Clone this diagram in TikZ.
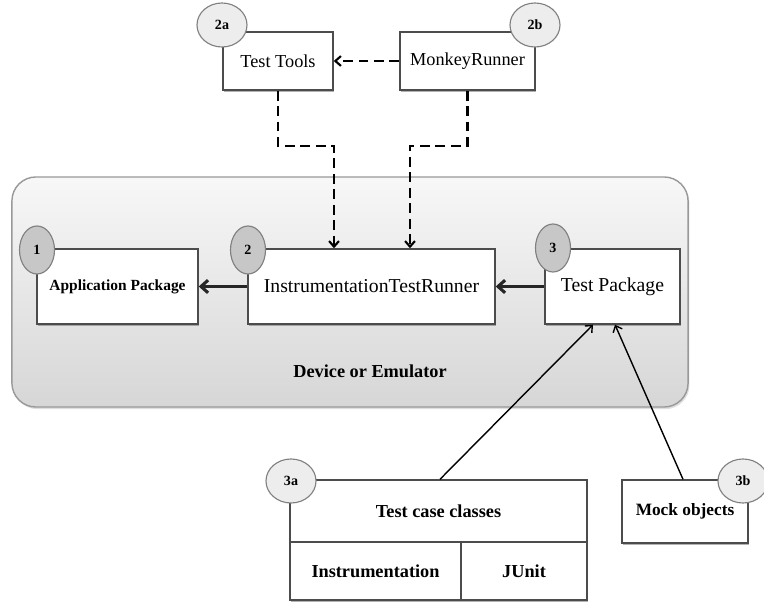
\documentclass[tikz,border=0pt]{standalone}
\usepackage{fontspec}
\setmainfont{Liberation Serif}
\usetikzlibrary{arrows.meta,shapes.geometric,shadows,calc}
\tikzset{>={Straight Barb[length=5pt,width=9pt]}}

\begin{document}
\begin{tikzpicture}[x=0.025cm, y=-0.025cm, font=\fontsize{13}{15}\selectfont]

  \tikzset{box/.style={draw=black!70, fill=white, line width=1pt,
                       drop shadow={shadow xshift=0.8pt, shadow yshift=-1.2pt,
                                    fill=black!60},
                       minimum height=1.875cm, inner sep=1pt},
           num/.style={ellipse, draw=black!50, fill=black!22, line width=0.8pt,
                       font=\bfseries\fontsize{10}{12}\selectfont, inner sep=0pt,
                       minimum width=0.875cm, minimum height=1.2cm},
           tag/.style={ellipse, draw=black!50, fill=black!7, line width=0.8pt,
                       font=\bfseries\fontsize{10}{12}\selectfont, inner sep=0pt,
                       minimum width=1.25cm, minimum height=1.1cm},
           link/.style={->, line width=2.2pt, draw=black!85},
           dline/.style={->, line width=1.5pt, dash pattern=on 7pt off 4pt,
                         >={Straight Barb[length=4pt,width=7pt]}},
           pull/.style={->, line width=1pt,
                        >={Straight Barb[length=4pt,width=7pt]}}}

  \useasboundingbox (0,0) rectangle (764,602);

  % device or emulator
  \node[draw=black!40, line width=1pt, rounded corners=0.6cm,
        top color=black!3, bottom color=black!16,
        drop shadow={shadow xshift=1pt, shadow yshift=-1.5pt, opacity=0.25},
        minimum width=16.9cm, minimum height=5.75cm] (device) at (350,292) {};
  \node[font=\fontsize{13}{15}\selectfont\bfseries] (devlbl) at (370,371)
       {Device or Emulator};
  \node[box, minimum width=4.025cm, font=\fontsize{11}{13}\selectfont\bfseries]
       (app) at (117.5,286.5) {Application Package};
  \node[box, minimum width=6.175cm, font=\fontsize{14}{16}\selectfont]
       (runner) at (371.5,286.5) {InstrumentationTestRunner};
  \node[box, minimum width=3.375cm, font=\fontsize{14}{16}\selectfont]
       (pkg) at (612.5,286.5) {Test Package};
  \node[num] (n1) at (37,250) {1};
  \node[num] (n2) at (248,250) {2};
  \node[num] (n3) at (553,248) {3};
  \draw[link] (runner.west) -- (app.east);
  \draw[link] (pkg.west) -- (runner.east);

  % test tools
  \node[box, minimum width=2.75cm, minimum height=1.45cm] (tools) at (278,61)
       {Test Tools};
  \node[box, minimum width=3.375cm, minimum height=1.45cm] (monkey) at (467.5,61)
       {MonkeyRunner};
  \node[tag] (n2a) at (222,25) {2a};
  \node[tag] (n2b) at (535,25) {2b};
  \draw[dline] (monkey.west) -- (tools.east);
  \draw[dline] (tools.south) -- ++(0,55) -| ($(runner.north)+(-37.5,0)$);
  \draw[dline] (monkey.south) -- ++(0,55) -| ($(runner.north)+(38.5,0)$);

  % test case classes and mock objects
  \node[box, minimum width=7.425cm, minimum height=1.55cm,
        font=\fontsize{13}{15}\selectfont\bfseries] (cases) at (438.5,511)
       {Test case classes};
  \node[box, minimum width=4.275cm, minimum height=1.45cm,
        font=\fontsize{13}{15}\selectfont\bfseries] (instr) at (375.5,571)
       {Instrumentation};
  \node[box, minimum width=3.15cm, minimum height=1.45cm,
        font=\fontsize{13}{15}\selectfont\bfseries] (junit) at (524,571) {JUnit};
  \node[box, minimum width=3.15cm, minimum height=1.575cm,
        font=\fontsize{12.3}{14}\selectfont\bfseries] (mock) at (685,511.5)
       {Mock objects};
  \node[tag] (n3a) at (291,481) {3a};
  \node[tag] (n3b) at (743,481) {3b};
  \draw[pull] ($(cases.north)+(1.5,0)$) -- ($(pkg.south)+(-19.5,0)$);
  \draw[pull] ($(mock.north)+(-2,0)$) -- ($(pkg.south)+(2.5,0)$);

\end{tikzpicture}
\end{document}
